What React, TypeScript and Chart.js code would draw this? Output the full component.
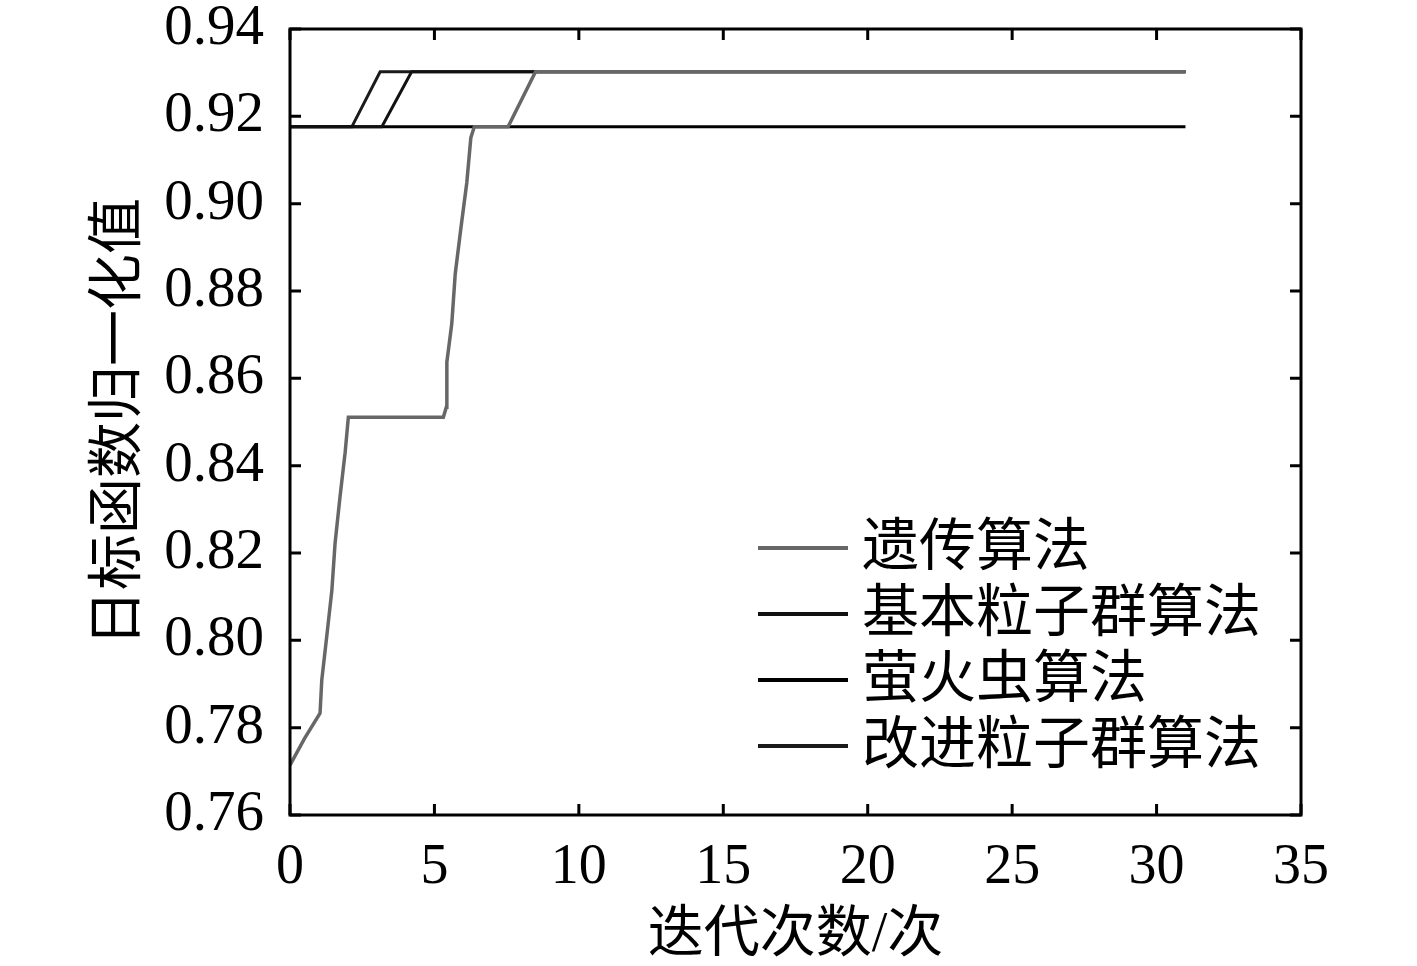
import React, { useEffect, useRef } from "react";
import { Chart, registerables } from "chart.js";

Chart.register(...registerables);

const seriesNames = ["遗传算法", "基本粒子群算法", "萤火虫算法", "改进粒子群算法"];
const seriesColors = ["#676767", "#111111", "#000000", "#1a1a1a"];

const gaX = [0, 0.5, 1.04, 1.1, 1.27, 1.45, 1.56, 1.73, 1.91, 2.02, 5.31, 5.41, 5.43, 5.6, 5.72, 5.92, 6.12, 6.26, 6.38, 7.55, 8.5, 31];
const gaY = [0.7714, 0.7775, 0.7833, 0.7909, 0.8008, 0.8115, 0.8222, 0.8328, 0.8431, 0.8511, 0.8511, 0.8534, 0.8637, 0.8725, 0.8839, 0.8946, 0.9048, 0.9151, 0.9176, 0.9176, 0.9302, 0.9302];

const psoX = [0, 3.18, 4.21, 31];
const psoY = [0.9176, 0.9176, 0.9302, 0.9302];

const fireflyX = [0, 31];
const fireflyY = [0.9176, 0.9176];

const ipsoX = [0, 2.14, 3.12, 31];
const ipsoY = [0.9176, 0.9176, 0.9302, 0.9302];

const xTicks = [0, 5, 10, 15, 20, 25, 30, 35];
const yTicks = [0.76, 0.78, 0.8, 0.82, 0.84, 0.86, 0.88, 0.9, 0.92, 0.94];

const zip = (xs: number[], ys: number[]) => xs.map((x, i) => ({ x, y: ys[i] }));

const FONT = "'Liberation Serif', 'Noto Sans CJK SC', serif";

const boxPlugin = {
  id: "boxTicks",
  afterDraw(chart: any) {
    const { ctx, chartArea } = chart;
    const { left, right, top, bottom } = chartArea;
    const xs = chart.scales.x;
    const ys = chart.scales.y;
    ctx.save();
    ctx.strokeStyle = "#000";
    ctx.lineWidth = 3;
    ctx.strokeRect(left, top, right - left, bottom - top);
    const tl = 11;
    ctx.beginPath();
    xTicks.forEach((v) => {
      const px = xs.getPixelForValue(v);
      ctx.moveTo(px, bottom);
      ctx.lineTo(px, bottom - tl);
      ctx.moveTo(px, top);
      ctx.lineTo(px, top + tl);
    });
    yTicks.forEach((v) => {
      const py = ys.getPixelForValue(v);
      ctx.moveTo(left, py);
      ctx.lineTo(left + tl, py);
      ctx.moveTo(right, py);
      ctx.lineTo(right - tl, py);
    });
    ctx.stroke();

    // legend
    const rowY = [548, 614, 680, 746];
    const lx0 = 758;
    const lx1 = 848;
    ctx.font = `57px ${FONT}`;
    ctx.textBaseline = "middle";
    ctx.textAlign = "left";
    chart.data.datasets.forEach((ds: any, i: number) => {
      ctx.strokeStyle = ds.borderColor;
      ctx.lineWidth = 4;
      ctx.beginPath();
      ctx.moveTo(lx0, rowY[i]);
      ctx.lineTo(lx1, rowY[i]);
      ctx.stroke();
      ctx.fillStyle = "#000";
      ctx.fillText(ds.label, 862, rowY[i] + 2);
    });
    ctx.restore();
  },
};

export default function App() {
  const ref = useRef<HTMLCanvasElement | null>(null);
  useEffect(() => {
    document.body.style.margin = "0";
    const canvas = ref.current!;
    const datasets = [
      { label: seriesNames[0], data: zip(gaX, gaY), borderColor: seriesColors[0], borderWidth: 3.5 },
      { label: seriesNames[1], data: zip(psoX, psoY), borderColor: seriesColors[1], borderWidth: 3 },
      { label: seriesNames[2], data: zip(fireflyX, fireflyY), borderColor: seriesColors[2], borderWidth: 3 },
      { label: seriesNames[3], data: zip(ipsoX, ipsoY), borderColor: seriesColors[3], borderWidth: 3 },
    ].map((d) => ({ ...d, pointRadius: 0, fill: false, tension: 0 }));
    const chart = new Chart(canvas, {
      type: "line",
      data: { datasets },
      plugins: [boxPlugin],
      options: {
        responsive: false,
        animation: false,
        layout: { padding: { top: 29, right: 116, left: 0, bottom: 0 } },
        plugins: { legend: { display: false }, tooltip: { enabled: false } },
        scales: {
          x: {
            type: "linear",
            min: 0,
            max: 35,
            afterFit: (s: any) => { s.height = 151; s.paddingLeft = 0; s.paddingRight = 0; },
            afterBuildTicks: (s: any) => { s.ticks = xTicks.map((v) => ({ value: v })); },
            grid: { display: false },
            border: { display: false },
            ticks: { font: { family: FONT, size: 56 }, color: "#000", padding: 12, maxRotation: 0 },
            title: { display: true, text: "迭代次数/次", font: { family: FONT, size: 56, lineHeight: 1 }, color: "#000", padding: { top: 0, bottom: 2 } },
          },
          y: {
            type: "linear",
            min: 0.76,
            max: 0.94,
            afterFit: (s: any) => { s.width = 290; s.paddingTop = 0; s.paddingBottom = 0; },
            afterBuildTicks: (s: any) => { s.ticks = yTicks.map((v) => ({ value: v })); },
            grid: { display: false },
            border: { display: false },
            ticks: { font: { family: FONT, size: 57 }, color: "#000", padding: 18, callback: (v: any) => Number(v).toFixed(2) },
            title: { display: true, text: "日标函数归一化值", font: { family: FONT, size: 56, lineHeight: 1 }, color: "#000", padding: { top: 92, bottom: 0 } },
          },
        },
      },
    });
    return () => chart.destroy();
  }, []);
  return (
    <div style={{ width: 1417, height: 966, background: "#fff" }}>
      <canvas ref={ref} width={1417} height={966} style={{ display: "block" }} />
    </div>
  );
}
